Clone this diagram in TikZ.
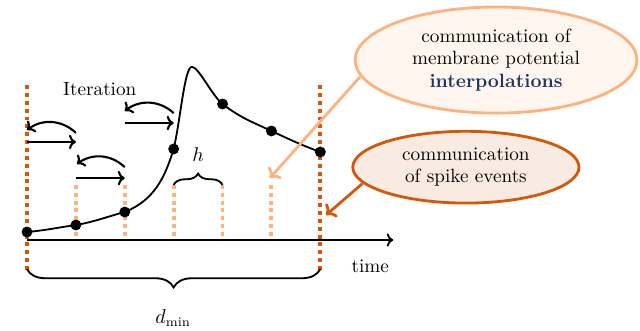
\documentclass[tikz,border=0pt]{standalone}
\usepackage{amsmath}
\usetikzlibrary{calc,positioning,arrows.meta,decorations.pathreplacing,shapes.geometric}
\definecolor{SpkDark}{RGB}{212,88,12}
\definecolor{SpkLight}{RGB}{253,178,128}
\definecolor{IpBlue}{RGB}{30,55,100}
\tikzset{
  dot/.style={circle,fill=black,inner sep=0pt,minimum size=0.21cm},
  darkdots/.style={SpkDark,line width=2.8pt,dash pattern=on 2.8pt off 2.8pt},
  lightdots/.style={SpkLight,line width=2.8pt,dash pattern=on 2.8pt off 2.8pt},
  iterarr/.style={->,line width=1.5pt},
  bubble/.style={ellipse,line width=2pt,align=center,inner sep=0pt}
}
\begin{document}
\begin{tikzpicture}[scale=1.30,transform shape,>={Computer Modern Rightarrow},font=\fontsize{10.5}{12.1}\selectfont]
\useasboundingbox (-0.519,-1.75) rectangle (11.788,4.615);
% grid of steps
\draw[darkdots] (0,2.98)--(0,-0.58);\draw[darkdots] (5.64,2.98)--(5.64,-0.58);
\foreach \i in {1,...,5} \draw[lightdots] (\i*0.94,1.06)--(\i*0.94,0);
% time axis
\coordinate (t0) at (0,0);\coordinate (t1) at (7.04,0);
\draw[->,line width=1.3pt] (t0)--(t1);
\node (time) at (6.60,-0.5) {time};
% membrane potential
\coordinate (v0) at (0,0.154);\coordinate (v1) at (0.94,0.288);\coordinate (v2) at (1.88,0.538);
\coordinate (v3) at (2.82,1.75);\coordinate (pk) at (3.17,3.33);\coordinate (v4) at (3.76,2.615);
\coordinate (v5) at (4.70,2.096);\coordinate (v6) at (5.64,1.692);
\draw[line width=1.3pt] (v0) to[out=5,in=188] (v1) to[out=10,in=195] (v2) to[out=22,in=253] (v3)
  .. controls (2.95,2.3) and (3.03,3.33) .. (pk) .. controls (3.30,3.33) and (3.56,2.77) .. (v4)
  to[out=-38,in=155] (v5) to[out=-25,in=160] (v6);
\foreach \i in {0,...,6} \node[dot] (d\i) at (v\i) {};
% iterations
\node (iter) at (1.40,2.90) {Iteration};
\coordinate (a0) at (0,1.885);\coordinate (a1) at (0.94,1.885);
\coordinate (b0) at (0.94,1.19);\coordinate (b1) at (1.88,1.19);
\coordinate (c0) at (1.88,2.25);\coordinate (c1) at (2.82,2.25);
\draw[iterarr] (a0)--(a1);\draw[iterarr] (b0)--(b1);\draw[iterarr] (c0)--(c1);
\coordinate (ra1) at (0.94,2.06);\coordinate (ra0) at (0,2.115);
\coordinate (rb1) at (1.88,1.40);\coordinate (rb0) at (0.96,1.46);
\coordinate (rc1) at (2.82,2.44);\coordinate (rc0) at (1.88,2.48);
\draw[iterarr] (ra1) to[bend right=40] (ra0);
\draw[iterarr] (rb1) to[bend right=40] (rb0);
\draw[iterarr] (rc1) to[bend right=40] (rc0);
% braces
\draw[line width=1.3pt,decorate,decoration={brace,amplitude=8pt}] (2.82,1.06)--(3.76,1.06);
\node (h) at (3.29,1.65) {$h$};
\draw[line width=1.3pt,decorate,decoration={brace,amplitude=13pt}] (5.64,-0.56)--(0,-0.56);
\node (dmin) at (2.81,-1.5) {$d_{\min}$};
% communication
\node[bubble,draw=SpkLight,fill=SpkLight!12,minimum width=5.42cm,minimum height=2.04cm] (e1) at (9.02,3.46)
  {communication of\\membrane potential\\\textcolor{IpBlue}{\textbf{interpolations}}};
\node[bubble,draw=SpkDark,fill=SpkDark!12,minimum width=4.35cm,minimum height=1.38cm] (e2) at (8.44,1.40)
  {communication\\of spike events};
\coordinate (e1t) at (4.67,1.19);\coordinate (e2t) at (5.75,0.48);
\draw[->,SpkLight,line width=2pt] (e1.187)--(e1t);
\draw[->,SpkDark,line width=2pt] (e2.189)--(e2t);
\end{tikzpicture}
\end{document}
